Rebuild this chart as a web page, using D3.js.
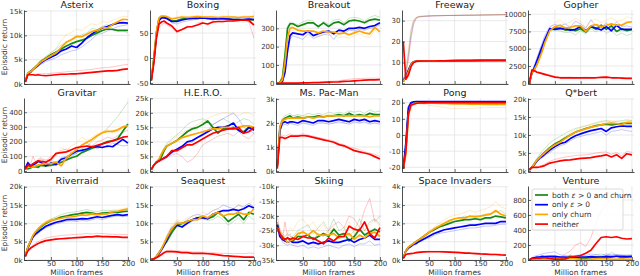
<!DOCTYPE html>
<html>
<head>
<meta charset="utf-8">
<title></title>
<style>
  body { margin: 0; background: #fff; }
  svg text { font-family: "DejaVu Sans", sans-serif; }
  .tick text { font-size: 7px; fill: #333; }
  .tick line { stroke: #333; stroke-width: 0.7; }
  .domain { stroke: #222; stroke-width: 0.8; }
  .title { font-size: 9.5px; fill: #222; text-anchor: middle; }
  .lab { font-size: 7.5px; fill: #333; text-anchor: middle; }
  .grid { stroke: #e3e3e3; stroke-width: 0.8; }
</style>
</head>
<body>
<svg width="640" height="276"></svg>
<script src="https://d3js.org/d3.v7.min.js"></script>
<script>
// x positions (million frames) shared by every series
var frames = [0,5,10,15,20,25,30,40,50,60,70,80,90,100,110,120,130,140,150,160,170,180,190,200];

var titles = ["Asterix","Boxing","Breakout","Freeway","Gopher",
              "Gravitar","H.E.R.O.","Ms. Pac-Man","Pong","Q*bert",
              "Riverraid","Seaquest","Skiing","Space Invaders","Venture"];
var yTicks = [[0,5,10,15],[-50,0,50],[0,100,200,300],[0,10,20,30],[0,2500,5000,7500,10000],
              [0,100,200,300,400],[0,5,10,15,20,25],[0,1,2,3],[-20,-10,0,10,20],[0,5,10,15,20],
              [0,5,10,15,20],[0,5,10,15,20],[-35,-30,-25,-20,-15,-10],[0,1,2,3,4],[0,200,400,600,800]];
var yUnit = ["k","","","","", "","k","k","","k", "k","k","k","k",""];
var yLims = [[0,15.2],[-52,96],[-4,400],[-0.3,35.1],[-100,10600],
             [-7,497],[-0.34,25.1],[-0.04,3.04],[-22.9,22.9],[-0.28,20.28],
             [0,20.2],[0,20.2],[-35,-9.8],[0,4.04],[0,987]];
var xTicks = [50,100,150,200];
var seriesNames = ["both ε > 0 and churn","only ε > 0","only churn","neither"];

// mean curves: both / eps / churn / neither
var asterix_both  = [0.5,2.2,2.6,3.0,3.5,4.0,4.6,5.3,6.0,6.6,7.2,7.8,8.3,8.7,9.0,9.4,10.0,10.5,11.0,11.3,11.2,11.0,11.0,11.0];
var asterix_eps   = [0.4,2.0,2.4,3.0,3.4,3.8,4.3,5.0,5.5,6.0,6.8,7.2,7.8,7.5,8.4,9.5,10.3,11.0,11.5,11.8,12.2,12.5,12.6,12.5];
var asterix_churn = [0.5,2.2,2.5,3.0,3.5,4.0,4.5,5.2,5.8,6.4,7.5,8.6,9.1,9.8,9.7,10.2,10.8,11.0,11.6,11.5,12.2,12.8,13.3,13.2];
var asterix_none  = [0.4,1.9,1.9,1.9,1.8,1.9,1.8,1.7,1.8,1.9,2.0,2.0,2.1,2.1,2.2,2.3,2.4,2.5,2.6,2.7,2.7,2.8,3.0,3.1];

var boxing_both  = [-45,0,50,78,82,82,80,74,75,78,80,80,80,80,79,79,78,78,78,77,77,76,76,76];
var boxing_eps   = [-45,-5,45,75,80,80,79,73,73,76,78,79,79,80,79,78,79,79,78,77,77,77,78,77];
var boxing_churn = [-45,0,52,80,84,84,83,78,80,82,81,82,83,82,82,82,81,82,82,82,81,82,82,83];
var boxing_none  = [-45,-10,40,68,72,74,70,64,53,57,62,63,66,70,68,72,73,73,74,74,75,76,75,66];

var breakout_both  = [0,5,30,150,300,325,325,310,320,330,330,310,330,310,330,335,320,340,345,340,330,345,350,345];
var breakout_eps   = [0,0,10,60,180,260,275,270,265,285,260,270,280,285,270,290,285,300,300,305,300,310,315,330];
var breakout_churn = [0,2,20,110,250,300,305,290,285,285,285,275,285,280,280,270,275,265,275,285,275,270,305,280];
var breakout_none  = [0,0,1,1,1,1,1,1,2,2,3,4,5,6,7,8,10,11,13,15,17,18,19,20];

var freeway_both  = [1,3,6,9,10.3,10.6,10.7,10.7,10.8,10.8,10.8,10.8,10.8,10.9,10.9,10.9,10.9,10.9,11,11,11,11,11,11];
var freeway_eps   = [1,3,6.2,9.1,10.3,10.6,10.7,10.7,10.8,10.8,10.8,10.8,10.9,10.9,10.9,10.9,10.9,11,11,11,11,11,11,11];
var freeway_churn = [1,2.5,5.5,8.8,10.2,10.5,10.6,10.7,10.7,10.8,10.8,10.8,10.8,10.8,10.9,10.9,10.9,10.9,10.9,11,11,11,11,11];
var freeway_none  = [20,2,4,8,10,10.5,10.6,10.7,10.7,10.7,10.8,10.8,10.8,10.8,10.9,10.9,10.9,10.9,10.9,11,11,11,11,11];

var gopher_both  = [0,1500,2000,2800,3800,4800,6000,7800,8000,8000,7700,7800,7600,7900,7400,8200,7800,8400,7800,8300,7500,7900,7600,7800];
var gopher_eps   = [0,1500,2300,3300,4300,5300,6300,7900,7800,7900,7900,7700,7800,8200,7600,8200,8000,7700,8200,7600,8400,7800,7800,7800];
var gopher_churn = [0,1500,2000,2700,3600,4600,5800,7600,8200,8400,8000,8100,8300,8300,7500,8300,8500,8200,8400,8600,8400,8400,8800,8900];
var gopher_none  = [0,1900,1800,1600,1500,1400,1300,1100,900,800,800,800,800,800,800,800,800,850,900,800,800,750,700,700];

var gravitar_both  = [20,15,20,30,30,25,40,35,40,45,60,75,90,100,125,140,155,165,185,200,205,220,270,320];
var gravitar_eps   = [20,55,35,40,50,65,60,35,55,45,80,90,115,135,140,150,165,165,160,170,165,190,215,190];
var gravitar_churn = [10,30,25,30,35,40,45,50,50,60,35,90,120,145,175,195,215,240,260,270,270,280,300,310];
var gravitar_none  = [10,40,30,50,60,70,65,60,80,120,125,130,145,160,165,170,165,175,185,195,205,215,230,235];

var hero_both  = [0.5,2,3,3.5,5,7,8.5,9.5,10.5,12,13.5,14.5,15,16,17.2,15,13,14.5,14.5,15,14,13.5,15,14.5];
var hero_eps   = [0.5,2,3,3.5,4,4.5,5,6.5,7.5,8.5,10,10.5,11.5,12.5,13.5,14.5,15,15,15.5,16.5,14,13,15,14];
var hero_churn = [0.5,2,3,4,6,7.5,8.5,9.5,10.5,11.5,12,12.5,13,13.5,14,14.5,14.5,15,15,14.5,15,15.5,15.5,15];
var hero_none  = [0.5,2,3,3.5,4,4.5,5,7,7,8,9,9,10,11,12,13,13.5,14,14.5,14.5,15,13,13.5,15];

var mspacman_both  = [0.2,1.8,2.1,2.2,2.25,2.3,2.2,2.25,2.2,2.25,2.25,2.3,2.25,2.3,2.3,2.35,2.3,2.4,2.3,2.35,2.3,2.4,2.35,2.35];
var mspacman_eps   = [0.2,1.7,2.0,2.05,2.0,2.05,2.05,2.0,2.1,2.05,2.0,2.1,2.1,2.05,2.1,2.15,2.1,2.05,2.15,2.1,2.15,2.05,2.1,2.05];
var mspacman_churn = [0.2,1.8,2.1,2.15,2.2,2.2,2.2,2.2,2.2,2.25,2.2,2.25,2.25,2.3,2.3,2.3,2.3,2.3,2.3,2.3,2.3,2.25,2.3,2.3];
var mspacman_none  = [0.1,1.4,1.4,1.35,1.4,1.45,1.45,1.45,1.48,1.45,1.4,1.35,1.3,1.25,1.2,1.1,1.05,0.95,0.85,0.8,0.75,0.7,0.6,0.5];

var pong_both  = [-21,-8,15,19.5,20,20,20,20,20,20,20,20,20,20.1,20.1,20.1,20.1,20.1,20.1,20.1,20.1,20.1,20.1,20.1];
var pong_eps   = [-21,-5,17,20,20.5,20.6,20.6,20.6,20.6,20.6,20.6,20.6,20.6,20.6,20.6,20.6,20.6,20.6,20.6,20.6,20.6,20.6,20.6,20.6];
var pong_churn = [-21,-12,12,18.5,19.5,19.7,19.8,19.8,19.8,19.7,19.6,19.5,19.4,19.3,19.2,19.2,19.1,19.1,19.1,19.0,19.0,19.0,19.0,19.0];
var pong_none  = [-21,-10,13,18.5,19,19.5,19.8,19.9,20,20,20,20,20,20,20,20,20,20,20,20,20,20,20,20];

var qbert_both  = [0.3,1,2,3,3.8,4.5,5.2,6.5,7.5,8.3,9.2,10,10.8,11.3,11.8,12.2,12.6,12.8,13,12.8,13,13.2,13.3,13.2];
var qbert_eps   = [0.3,1,1.8,2.8,3.5,4,4.6,5.8,6.8,7.6,8,9,9.8,10.3,10.8,11.2,11.5,11.8,11,12,12.3,12.5,12.4,12.4];
var qbert_churn = [0.3,1,2,3,3.7,4.4,5,6.3,7.2,8,9,10,10.8,11.3,11.7,12.2,12.5,12.8,13.2,13.3,13.2,12.9,13.5,13.5];
var qbert_none  = [0.3,1,1,1,1.1,1.3,1.5,2.2,2.5,2.8,3,3.1,3.3,3.5,3.6,3.7,4,4.2,4.5,3.9,4.5,3.5,4.8,4.5];

var riverraid_both  = [1,3.5,5,6.5,7.5,8.3,9,10,10.7,11.2,11.7,12,12.3,12.5,12.8,13,12.8,12.5,12.8,12.9,13,13,13.2,13.3];
var riverraid_eps   = [1,3.3,4.8,6.3,7.1,7.6,8.2,9.2,9.8,10.3,10.6,11,11.1,11.1,11.3,11.2,11.5,11.8,11.6,11.9,12.2,12.4,12.2,12.4];
var riverraid_churn = [1,3.5,5,6.7,7.7,8.5,9.2,10.2,10.8,11.1,11.4,11.7,11.8,12,12.3,12.2,12.6,12.3,12.5,12.6,13.1,13.3,13.6,14];
var riverraid_none  = [1,2.5,3.2,3.7,4.1,4.5,4.8,5.3,5.5,5.7,5.8,5.9,6,6.1,6.2,6.3,6.3,6.5,6.4,6.4,6.3,6.3,6.2,6.2];

var seaquest_both  = [0.1,0.3,1,2,3,4.2,5,7.5,9.5,10,10.5,11,11.5,11.8,11.3,11.8,13,12,10.5,11.5,12.5,11,13,12.5];
var seaquest_eps   = [0.1,0.3,0.8,1.7,2.8,4,5.5,8.5,9.5,9,10,11,11.5,11.5,11.3,12.5,13,13.5,13.5,13.8,13.5,14,14.8,14.2];
var seaquest_churn = [0.1,0.3,1,2,3,4.5,6,8.5,10,10,10.5,11,11,12,11.5,12.5,13,12,12.5,12.5,13,12.5,12.5,14];
var seaquest_none  = [0.1,0.3,0.6,1,1.5,2,2.3,2.3,2.2,2,2,1.8,1.8,1.8,1.7,1.6,1.4,1.2,1.1,1,0.9,0.8,0.8,0.8];

var skiing_both  = [-23,-26,-27,-28,-27.5,-28,-28.5,-27,-27,-26.5,-28,-27,-26,-27,-24.5,-26.5,-26,-28.5,-27,-24.5,-26.5,-25.5,-24.5,-25.5];
var skiing_eps   = [-23,-27,-28,-28.5,-29,-28.5,-29,-29,-28.5,-29.5,-29,-29.5,-29,-28.5,-29,-29,-28.5,-28,-29,-28,-27.5,-26.5,-28,-28];
var skiing_churn = [-24,-25.5,-27.5,-28,-29,-28.5,-28,-26,-25.5,-26.5,-25,-26.5,-26.5,-26.5,-26,-27.5,-27,-26,-28,-26.5,-27.5,-26,-25.5,-27];
var skiing_none  = [-24,-26,-27.5,-28,-27.5,-28,-27.5,-28,-27,-27.5,-27.5,-28.5,-29.5,-27.5,-28.5,-27,-27,-23.5,-24.5,-25,-22,-26,-27.5,-24];

var spaceinv_both  = [0.1,0.5,0.7,0.8,0.9,1.0,1.1,1.3,1.5,1.65,1.8,1.9,2.0,2.1,2.15,2.2,2.2,2.25,2.2,2.3,2.3,2.4,2.35,2.3];
var spaceinv_eps   = [0.1,0.5,0.65,0.75,0.85,0.9,1.0,1.15,1.3,1.45,1.55,1.65,1.7,1.75,1.8,1.85,1.9,1.9,1.95,2.0,2.0,2.0,2.1,2.1];
var spaceinv_churn = [0.1,0.5,0.7,0.8,0.9,1.0,1.1,1.3,1.5,1.7,1.85,2.0,2.15,2.25,2.3,2.3,2.4,2.35,2.4,2.45,2.5,2.7,2.5,2.4];
var spaceinv_none  = [0.1,0.3,0.33,0.35,0.37,0.4,0.42,0.44,0.45,0.45,0.45,0.44,0.43,0.42,0.4,0.38,0.37,0.35,0.33,0.32,0.3,0.3,0.28,0.27];

var venture_both  = [0,20,30,30,20,25,30,25,30,20,20,50,30,20,25,30,40,40,30,40,50,30,40,40];
var venture_eps   = [0,20,30,40,40,50,45,50,50,40,40,30,35,40,40,45,40,40,50,45,50,50,45,50];
var venture_churn = [0,10,15,15,10,10,15,10,10,15,10,20,15,10,5,10,15,20,15,10,10,15,10,10];
var venture_none  = [0,20,20,25,25,30,30,20,10,10,15,40,50,60,90,130,220,300,310,300,310,290,280,285];

// one individual run per method (faint lines), same order
var asterix_runs = [
  [0.5,2.3,2.7,3.2,3.7,4.2,4.8,5.6,6.4,7.2,8.0,8.6,9.2,9.6,10.1,10.5,11.4,11.2,11.8,12.2,11.4,10.8,10.9,10.5],
  [0.4,1.9,2.3,2.8,3.2,3.6,4.0,4.6,5.0,5.4,6.0,6.4,6.8,7.0,7.6,8.4,9.2,10.2,10.4,10.9,11.3,11.8,12.0,12.2],
  [0.5,2.4,2.8,3.3,3.8,4.3,4.9,5.7,6.5,7.3,8.9,10.2,10.6,11.3,11.0,11.8,12.4,12.1,12.9,12.6,13.1,13.5,13.9,13.8],
  [0.4,2.0,2.0,2.0,2.0,2.1,2.1,2.1,2.2,2.3,2.4,2.5,2.6,2.7,2.8,2.9,3.0,3.2,3.3,3.4,3.5,3.7,3.9,4.0]];
var boxing_runs = [
  [-45,2,55,80,84,83,80,72,74,80,82,78,82,80,78,80,76,80,78,76,78,75,77,75],
  [-45,-5,45,76,80,82,80,70,68,72,74,76,78,80,80,76,78,80,78,76,76,78,80,78],
  [-45,2,55,82,85,85,84,80,82,84,83,84,85,84,83,84,83,84,84,83,82,84,84,84],
  [-45,-12,35,62,66,70,66,60,50,58,64,60,70,72,66,74,72,72,74,74,76,76,72,40]];
var breakout_runs = [
  [0,5,35,170,310,335,330,320,335,345,340,300,340,320,345,350,330,355,360,355,340,360,370,360],
  [0,0,8,50,160,240,260,250,240,270,245,255,265,270,240,275,270,290,285,295,290,300,305,320],
  [0,2,18,100,230,280,290,270,260,250,275,255,270,260,265,250,255,245,260,270,255,250,290,265],
  [0,0,1,1,1,1,1,1,2,3,4,6,8,10,12,14,18,22,25,26,27,28,28,27]];
var freeway_runs = [
  [2,6,15,25,30,31.5,32,32.2,32.3,32.4,32.4,32.5,32.5,32.5,32.6,32.6,32.6,32.7,32.7,32.8,32.8,32.8,32.9,32.9],
  [2,5,13,23,29,31.2,31.8,32.1,32.2,32.3,32.4,32.4,32.5,32.5,32.5,32.6,32.6,32.6,32.7,32.7,32.8,32.8,32.8,32.9],
  [2,6,16,26,30.5,31.7,32.1,32.2,32.3,32.4,32.5,32.5,32.5,32.6,32.6,32.6,32.7,32.7,32.7,32.8,32.8,32.9,32.9,32.9],
  [2,4,11,21,28,31,31.7,32,32.2,32.3,32.3,32.4,32.5,32.5,32.5,32.6,32.6,32.6,32.7,32.7,32.7,32.8,32.8,32.8]];
var gopher_runs = [
  [0,1400,1900,2700,3700,4700,5900,7600,7700,7600,7300,7400,7000,7600,7100,7900,7400,8100,7200,7600,6900,7300,6900,7200],
  [0,1700,2600,3700,4800,5800,6900,8200,8500,8300,8600,8100,9000,8600,8000,9200,8300,8000,8800,7900,8900,8200,8300,8100],
  [0,1600,2100,2900,3900,5000,6200,8000,8800,9200,8500,8900,9400,9000,8000,9000,9300,8800,9100,9500,9000,9100,9600,9400],
  [0,2000,1900,1700,1600,1500,1400,1200,1000,900,900,900,850,850,900,850,850,900,950,850,850,800,780,760]];
var gravitar_runs = [
  [20,10,15,25,25,20,30,30,35,40,55,80,100,120,150,170,200,230,260,290,330,370,420,470],
  [20,60,40,45,55,70,80,60,70,60,90,100,110,120,150,140,170,150,170,160,190,180,170,175],
  [10,35,30,40,45,55,70,80,70,100,160,140,170,190,230,210,230,250,270,280,260,270,290,300],
  [10,70,40,100,60,80,90,70,100,110,140,150,120,140,180,190,170,200,210,230,220,240,260,280]];
var hero_runs = [
  [0.5,2.2,3.5,4.5,6,8,9.5,11,12.5,14,16,17,17.5,18,17,16,17,18,17,16,17,18,17.5,16],
  [0.5,1.8,2.8,3.2,3.8,4.2,4.6,6,7,8,9,10,11.5,13,14,16,17,18,19,20,18,15,14,13],
  [0.5,2,3,4.2,6.5,8,9,10.5,12,13,14,15,16,17,18,19,19.5,20,20,19.5,19,20,20,19],
  [0.5,1.8,2.5,3,3.5,4,4.5,5.5,6,5,3,4,6,9,10,11,12,12.5,13,12,13.5,12,11,13]];
var mspacman_runs = [
  [0.2,1.9,2.2,2.3,2.35,2.4,2.3,2.35,2.3,2.4,2.35,2.4,2.35,2.45,2.4,2.45,2.4,2.5,2.45,2.5,2.4,2.55,2.45,2.5],
  [0.2,1.6,1.9,1.95,1.9,2.0,1.95,1.9,2.0,1.95,1.9,2.0,2.0,1.95,2.0,2.05,2.0,1.95,2.05,2.0,2.05,1.95,2.0,1.95],
  [0.2,1.9,2.2,2.2,2.25,2.25,2.3,2.3,2.25,2.3,2.25,2.3,2.3,2.35,2.35,2.3,2.35,2.35,2.3,2.35,2.35,2.3,2.35,2.35],
  [0.1,1.5,1.5,1.45,1.5,1.55,1.5,1.5,1.55,1.5,1.45,1.4,1.35,1.3,1.25,1.15,1.1,1.0,0.95,0.9,0.8,0.75,0.7,0.6]];
var pong_runs = [
  [-21,-9,14,19,20,20,20,20,20,20,20,20,20,20,20,20,20,20,20,20,20,20,20,20],
  [-21,-4,18,20.5,20.7,20.7,20.7,20.7,20.7,20.7,20.7,20.7,20.7,20.7,20.7,20.7,20.7,20.7,20.7,20.7,20.7,20.7,20.7,20.7],
  [-21,-13,10,17.5,19,19.5,19.5,19,18.5,18,17.5,17,16.5,16.5,16.5,16.5,16.5,16.5,16.8,17,17,17,17,17],
  [-21,-11,12,18,19,19.5,19.8,20,20,20,20,20,20,20,20,20,20,20,20,20,20,20,20,20]];
var qbert_runs = [
  [0.3,1.2,2.4,3.6,4.6,5.4,6.2,7.8,8.8,9.6,10.5,11.2,11.8,12.2,12.6,13,13.4,13.8,14,13.6,13.8,14,14.2,14],
  [0.3,0.9,1.6,2.5,3.2,3.7,4.2,5.2,6.2,7,7.5,8.4,9.2,9.6,10,10.3,10.6,11,10,11,11.2,11.5,11.2,11],
  [0.3,1.1,2.2,3.3,4.1,4.8,5.5,6.8,7.8,8.6,9.6,10.6,11.4,12,12.4,12.8,13.2,13.5,13.8,14,13.8,13.5,14,14.1],
  [0.3,1.1,1.1,1.2,1.4,1.6,1.9,2.7,3.2,3.6,3.9,4.1,4.3,4.4,4.5,4.7,5,5.2,5.3,4.6,5.2,4.2,5.5,5.2]];
var riverraid_runs = [
  [1,3.6,5.2,6.8,7.8,8.6,9.3,10.4,11.2,11.8,12.4,12.8,13,13.2,13.5,13.8,13.4,13.2,13.6,13.5,13.6,13.4,13.8,13.6],
  [1,3.2,4.6,6,6.8,7.3,7.9,8.8,9.4,9.9,10.2,10.6,10.7,10.5,10.8,10.6,11,11.3,11,11.5,11.8,12,11.8,12],
  [1,3.6,5.2,6.9,8,8.8,9.5,10.5,11.2,11.6,11.9,12.2,12.3,12.6,12.9,12.7,13.1,12.8,13,13.2,13.6,13.8,14,14.3],
  [1,2.7,3.5,4.1,4.6,5,5.4,6,6.3,6.5,6.7,6.8,6.9,7,7.1,7.2,7.1,7.3,7.2,7.1,7,7,7,6.9]];
var seaquest_runs = [
  [0.1,0.3,1,2.2,3.2,4.4,5.5,8,9,9.5,10,10.5,11,11.2,10.8,11,12,11,9.5,10.5,11.5,10,12,11],
  [0.1,0.3,0.9,1.8,3,4.5,6.5,9,10.5,10,11,12,12.5,12,12.5,13.5,14,15,14.5,14,15,14.5,15.5,14.5],
  [0.1,0.3,1.1,2.2,3.4,5,6.8,9.5,11,10.5,11.5,12,12,13,12.5,13.5,14,13,13.5,14,15,14,15,17],
  [0.1,0.3,0.7,1.2,1.8,2.3,2.6,2.6,2.5,2.4,2.4,2.2,2.2,2.1,2.1,2,1.9,1.8,1.8,1.7,1.8,1.7,1.9,1.8]];
var skiing_runs = [
  [-22,-25,-26,-27,-26,-27,-27,-25,-24,-23,-26,-24,-22,-25,-21,-25,-24,-27,-25,-21,-25,-22,-21,-23],
  [-22,-26,-29,-29.5,-30,-29.5,-30,-30.5,-30,-31,-30.5,-31,-30.5,-30,-30.5,-31,-30,-29.5,-30.5,-29.5,-29.5,-28.5,-30,-29.5],
  [-22,-24,-26,-27,-26,-24,-25,-22,-21,-24,-22,-25,-23,-26,-24,-27,-25,-22,-26,-24,-25,-23,-21,-24],
  [-20,-25,-28,-22,-27,-26,-29,-27,-25,-27,-28,-26,-27,-25,-23,-22,-24,-20,-21,-24,-18,-14,-22,-20]];
var spaceinv_runs = [
  [0.1,0.5,0.7,0.8,0.9,1.0,1.1,1.3,1.5,1.7,1.85,2.0,2.1,2.25,2.3,2.4,2.35,2.45,2.4,2.5,2.55,2.6,2.7,2.5],
  [0.1,0.45,0.6,0.7,0.8,0.85,0.95,1.1,1.2,1.35,1.45,1.5,1.55,1.6,1.65,1.7,1.75,1.75,1.8,1.85,1.85,1.9,1.95,1.95],
  [0.1,0.5,0.75,0.85,0.95,1.05,1.15,1.35,1.6,1.8,2.0,2.2,2.35,2.45,2.5,2.6,2.7,2.6,2.7,2.8,2.9,3.2,2.9,2.8],
  [0.1,0.3,0.35,0.37,0.4,0.42,0.45,0.47,0.48,0.48,0.48,0.47,0.46,0.45,0.43,0.42,0.4,0.38,0.36,0.35,0.33,0.33,0.31,0.3]];
var venture_runs = [
  [0,10,20,30,25,30,40,20,30,20,30,70,40,30,40,50,70,80,60,100,70,50,70,60],
  [0,30,50,60,70,80,90,100,110,70,60,50,60,70,60,80,70,60,80,70,75,70,60,70],
  [0,15,20,25,20,15,20,20,15,25,20,40,30,20,10,20,30,40,25,20,20,25,20,20],
  [0,10,15,10,20,10,15,20,10,30,80,120,200,230,180,300,500,650,750,820,800,850,870,840]];

var means = [
  [asterix_both, asterix_eps, asterix_churn, asterix_none],
  [boxing_both, boxing_eps, boxing_churn, boxing_none],
  [breakout_both, breakout_eps, breakout_churn, breakout_none],
  [freeway_both, freeway_eps, freeway_churn, freeway_none],
  [gopher_both, gopher_eps, gopher_churn, gopher_none],
  [gravitar_both, gravitar_eps, gravitar_churn, gravitar_none],
  [hero_both, hero_eps, hero_churn, hero_none],
  [mspacman_both, mspacman_eps, mspacman_churn, mspacman_none],
  [pong_both, pong_eps, pong_churn, pong_none],
  [qbert_both, qbert_eps, qbert_churn, qbert_none],
  [riverraid_both, riverraid_eps, riverraid_churn, riverraid_none],
  [seaquest_both, seaquest_eps, seaquest_churn, seaquest_none],
  [skiing_both, skiing_eps, skiing_churn, skiing_none],
  [spaceinv_both, spaceinv_eps, spaceinv_churn, spaceinv_none],
  [venture_both, venture_eps, venture_churn, venture_none]];
var runs = [asterix_runs, boxing_runs, breakout_runs, freeway_runs, gopher_runs,
            gravitar_runs, hero_runs, mspacman_runs, pong_runs, qbert_runs,
            riverraid_runs, seaquest_runs, skiing_runs, spaceinv_runs, venture_runs];

var colors = ["#138a13", "#0000ff", "#ffa500", "#ff0000"];

var svg = d3.select("svg");
var colX = [24, 150, 276, 402, 528], rowY = [10, 98, 186];
var W = 106, H = 74;
var x = d3.scaleLinear().domain([-2.5, 204]).range([0, W]);

titles.forEach(function(t, i) {
  var c = i % 5, r = Math.floor(i / 5);
  var g = svg.append("g").attr("transform", "translate(" + colX[c] + "," + rowY[r] + ")");
  var y = d3.scaleLinear().domain(yLims[i]).range([H, 0]);

  // grid
  g.selectAll(".gx").data(xTicks).enter().append("line").attr("class", "grid")
    .attr("x1", x).attr("x2", x).attr("y1", 0).attr("y2", H);
  g.selectAll(".gy").data(yTicks[i]).enter().append("line").attr("class", "grid")
    .attr("x1", 0).attr("x2", W).attr("y1", y).attr("y2", y);

  g.append("clipPath").attr("id", "clip" + i).append("rect")
    .attr("x", 0).attr("y", 0).attr("width", W).attr("height", H);
  var plot = g.append("g").attr("clip-path", "url(#clip" + i + ")");

  var line = d3.line()
    .x(function(d, k) { return x(frames[k]); })
    .y(function(d) { return y(d); });

  runs[i].forEach(function(s, k) {
    plot.append("path").attr("d", line(s)).attr("fill", "none")
      .attr("stroke", colors[k]).attr("stroke-width", 0.7).attr("stroke-opacity", 0.32);
  });
  means[i].forEach(function(s, k) {
    plot.append("path").attr("d", line(s)).attr("fill", "none")
      .attr("stroke", colors[k]).attr("stroke-width", 1.7).attr("stroke-linejoin", "round");
  });

  var fmt = function(d) { return d + yUnit[i]; };
  g.append("g").call(d3.axisLeft(y).tickValues(yTicks[i]).tickFormat(fmt)
    .tickSizeInner(-3).tickSizeOuter(0).tickPadding(1.5));
  var xa = d3.axisBottom(x).tickValues(xTicks).tickSizeInner(-3).tickSizeOuter(0).tickPadding(1.5);
  if (r < 2) xa.tickFormat("");
  g.append("g").attr("transform", "translate(0," + H + ")").call(xa);

  g.append("text").attr("class", "title").attr("x", W / 2).attr("y", -2).text(t);
  if (r == 2) {
    g.append("text").attr("class", "lab").attr("x", x(100)).attr("y", H + 15).text("Million frames");
  }
  if (c == 0) {
    g.append("text").attr("class", "lab")
      .attr("transform", "translate(" + (6.5 - colX[0]) + "," + (H / 2) + ") rotate(-90)")
      .text("Episodic return");
  }

  // legend sits in the last panel
  if (i == 14) {
    var lg = g.append("g").attr("transform", "translate(4,3)");
    lg.append("rect").attr("width", 91).attr("height", 41).attr("rx", 2)
      .attr("fill", "#fff").attr("fill-opacity", 0.85).attr("stroke", "#ccc").attr("stroke-width", 0.7);
    seriesNames.forEach(function(n, k) {
      var row = lg.append("g").attr("transform", "translate(0," + (6 + k * 9.7) + ")");
      row.append("line").attr("x1", 3).attr("x2", 16).attr("stroke", colors[k]).attr("stroke-width", 1.7);
      var tx = row.append("text").attr("x", 20).attr("dy", "0.35em")
        .style("font-size", "7.5px").attr("fill", "#333");
      var parts = n.split("ε");
      tx.append("tspan").text(parts[0]);
      if (parts.length > 1) {
        tx.append("tspan").style("font-style", "italic").text("ε");
        tx.append("tspan").text(parts[1]);
      }
    });
  }
});
</script>
</body>
</html>
